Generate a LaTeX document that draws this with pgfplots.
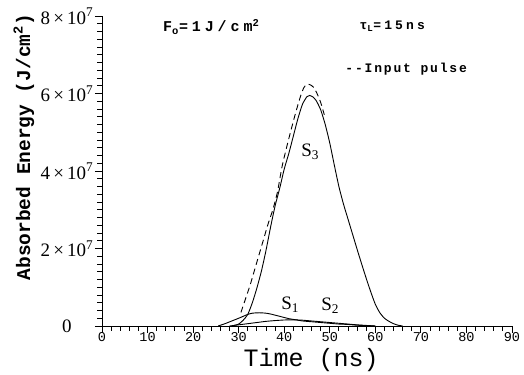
\documentclass[border=0pt]{standalone}
\usepackage{fontspec}
\setmainfont{Liberation Serif}
\newfontfamily\mono{Liberation Mono}
\newfontfamily\annfont[LetterSpace=26]{Liberation Mono}
\newfontfamily\annfontt[LetterSpace=24]{Liberation Mono}
\newfontfamily\annfontb[LetterSpace=14]{Liberation Mono}
\usepackage{pgfplots}
\pgfplotsset{compat=1.18}

\begin{document}
\begin{tikzpicture}
\begin{axis}[
  scale only axis, width=410bp, height=310bp,
  xmin=0, xmax=90, ymin=0, ymax=8,
  axis lines*=left,
  axis line style={line width=0.9bp},
  tick align=outside,
  xtick={0,10,...,90}, xticklabels={0,10,20,30,40,50,60,70,80,90},
  minor x tick num=4,
  ytick={0,2,4,6,8},
  yticklabels={0,{2\,×\,10\textsuperscript{7}},{4\,×\,10\textsuperscript{7}},{6\,×\,10\textsuperscript{7}},{8\,×\,10\textsuperscript{7}}},
  minor y tick num=9,
  major tick length=7bp, minor tick length=4.5bp,
  every tick/.style={black, line width=0.8bp},
  xticklabel style={font=\mono\fontsize{13.5bp}{13.5bp}\selectfont, inner sep=0.5bp, yshift=1.5bp},
  yticklabel style={font=\fontsize{19bp}{19bp}\selectfont, anchor=center, xshift=-28bp},
  xlabel={Time (ns)},
  ylabel={Absorbed Energy (J/cm\textsuperscript{2})},
  xlabel style={font=\mono\fontsize{25bp}{25bp}\selectfont, inner sep=0pt, at={(axis description cs:0.51,0)}, anchor=base, yshift=-40bp},
  ylabel style={font=\mono\bfseries\fontsize{19.5bp}{19.5bp}\selectfont, at={(axis description cs:-0.1756,0.577)}, anchor=base},
  clip=false,
]
\coordinate (O) at (rel axis cs:0,0);
% S3
\addplot[black, line width=0.9bp, smooth, tension=0.4] coordinates {
 (28.5,0) (30,0.05) (31,0.15) (32,0.3) (33,0.6) (34,0.98) (35,1.42) (36,1.95) (37,2.55) (38,3.1) (39,3.55) (40,4.05) (41,4.45) (42,4.9) (43,5.35) (44,5.72) (45,5.92) (45.6,5.95) (46.2,5.92) (47,5.82) (48,5.58) (49,5.2) (50,4.72) (51,4.15) (52,3.6) (53,3.15) (54,2.76) (55,2.37) (56,1.98) (57,1.6) (58,1.23) (59,0.88) (60,0.56) (61,0.34) (62,0.2) (63,0.12) (64,0.06) (65,0.02) (66,0)
};
% input pulse (dashed)
\addplot[black, line width=0.9bp, dash pattern=on 6bp off 4bp, smooth, tension=0.4] coordinates {
 (30.5,0.35) (31.5,0.7) (32.5,1.05) (33.5,1.45) (34.5,1.85) (35.5,2.25) (36.5,2.65) (37.5,3.0) (38.5,3.45) (39.5,4.1) (40.5,4.6) (41.5,5.06) (42.5,5.5) (43.5,5.9) (44.3,6.15) (45,6.24) (45.8,6.22) (46.5,6.15) (47.2,6.0) (48,5.77) (48.8,5.45)
};
% S1
\addplot[black, line width=0.9bp, smooth, tension=0.4] coordinates {
 (25.5,0) (27,0.06) (28.5,0.13) (30,0.2) (31,0.25) (32,0.3) (33,0.33) (34,0.34) (35,0.34) (36,0.33) (37,0.31) (38,0.28) (39,0.25) (40,0.22) (41,0.19) (42,0.17) (43,0.15) (44,0.13) (46,0.11) (48,0.09) (50,0.07) (52,0.05) (54,0.04) (56,0.02) (58,0.01) (60,0)
};
% S2
\addplot[black, line width=0.9bp, smooth, tension=0.4] coordinates {
 (28,0) (30,0.03) (32,0.06) (34,0.09) (36,0.12) (38,0.14) (40,0.155) (42,0.16) (44,0.15) (46,0.13) (48,0.11) (50,0.09) (52,0.07) (54,0.05) (56,0.03) (58,0.015) (60,0)
};
\node[font=\fontsize{19bp}{19bp}\selectfont] at (axis cs:45.7,4.49) {S\textsubscript{3}};
\node[font=\fontsize{19bp}{19bp}\selectfont] at (axis cs:41.3,0.54) {S\textsubscript{1}};
\node[font=\fontsize{19bp}{19bp}\selectfont] at (axis cs:50.1,0.52) {S\textsubscript{2}};
\node[anchor=base west, inner sep=0pt, font=\annfont\bfseries\fontsize{15bp}{15bp}\selectfont] at (axis cs:13.4,7.59) {F\textsubscript{o}=1J/cm\textsuperscript{2}};
\node[anchor=base west, inner sep=0pt, font=\annfontt\bfseries\fontsize{13bp}{13bp}\selectfont] at (axis cs:56.5,7.66) {τ\textsubscript{L}=15ns};
\node[anchor=base west, inner sep=0pt, font=\annfontb\bfseries\fontsize{13bp}{13bp}\selectfont] at (axis cs:53.4,6.55) {-{}-Input pulse};
\end{axis}
\pgfresetboundingbox
\path (O) ++(-102bp,-49bp) rectangle ++(524bp,375bp);
\end{tikzpicture}
\end{document}
